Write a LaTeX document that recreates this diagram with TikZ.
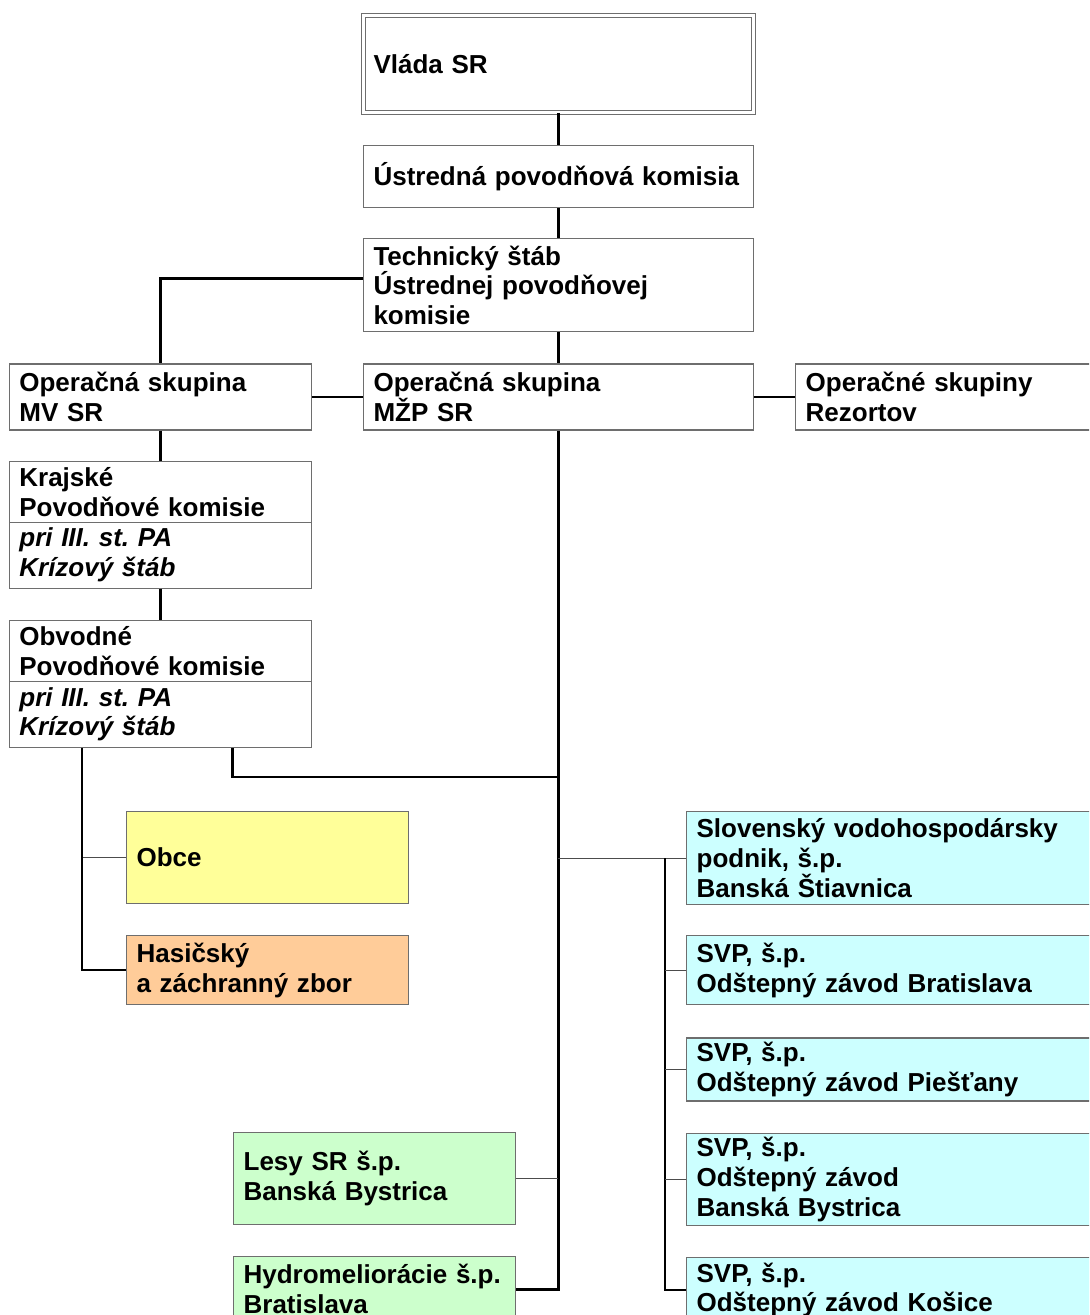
\documentclass[tikz,border=0pt]{standalone}
\usepackage{fontspec}
\setmainfont{Liberation Sans}
\usetikzlibrary{positioning, shapes.multipart}
\definecolor{povYellow}{RGB}{255, 255, 153}
\definecolor{povOrange}{RGB}{255, 204, 153}
\definecolor{povCyan}{RGB}{204, 255, 255}
\definecolor{povGreen}{RGB}{204, 255, 204}
\definecolor{povBorder}{RGB}{110, 110, 110}

\begin{document}
\begin{tikzpicture}[
    x=0.02cm, y=-0.02cm,
    box/.style={
        rectangle,
        draw=povBorder,
        fill=#1,
        line width=0.7pt,
        anchor=north west,
        align=left,
        inner xsep=0.2cm,
        inner ysep=0pt,
        font=\fontsize{14.8}{17}\selectfont\bfseries
    },
    box/.default=white,
    colC/.style={text width=7.4cm},
    colL/.style={text width=5.64cm},
    colS/.style={text width=5.24cm},
    colR/.style={text width=7.88cm},
    splitbox/.style={
        box, colL,
        rectangle split,
        rectangle split parts=2,
        inner ysep=3pt
    },
    trunk/.style={line width=1.5pt, black},
    rail/.style={line width=1.1pt, black},
    link/.style={line width=0.6pt, black!70}
]
    \useasboundingbox (0,0) rectangle (1089,1315);
    \clip (0,0) rectangle (1089,1315);

    % Level 1: Government and central commission
    \node[box, colC, double, double distance=1.2pt, line width=0.6pt, minimum height=1.94cm] (vlada) at (363,15) {Vláda SR};
    \node[box, colC, minimum height=1.24cm, below=0.64cm of vlada] (upk) {Ústredná povodňová komisia};
    \node[box, colC, minimum height=1.86cm, below=0.6cm of upk] (tech) {Technický štáb\\Ústrednej povodňovej\\komisie};

    % Level 2: Operation groups
    \node[box, colC, minimum height=1.32cm, below=0.62cm of tech] (mzp) {Operačná skupina\\MŽP SR};
    \node[box, colL, minimum height=1.32cm, left=1.02cm of mzp] (mvsr) {Operačná skupina\\MV SR};
    \node[box, text width=5.72cm, minimum height=1.32cm, right=0.82cm of mzp] (rezort) {Operačné skupiny\\Rezortov};

    % Level 3: Regional and district commissions
    \node[splitbox, below=0.6cm of mvsr] (krajske) {Krajské\\Povodňové komisie
        \nodepart{two}\itshape pri III. st.\ PA\\\itshape Krízový štáb};
    \node[splitbox, below=0.62cm of krajske] (obvodne) {Obvodné\\Povodňové komisie
        \nodepart{two}\itshape pri III. st.\ PA\\\itshape Krízový štáb};

    % Level 4: Municipalities and rescue
    \node[box=povYellow, colS, minimum height=1.84cm] (obce) at (126,811) {Obce};
    \node[box=povOrange, colS, minimum height=1.38cm, below=0.62cm of obce] (hasic) {Hasičský\\a záchranný zbor};

    % Level 4: Water management enterprises
    \node[box=povCyan, colR, minimum height=1.86cm] (svp1) at (686,811) {Slovenský vodohospodársky\\podnik, š.p.\\Banská Štiavnica};
    \node[box=povCyan, colR, minimum height=1.38cm, below=0.6cm of svp1] (svp2) {SVP, š.p.\\Odštepný závod Bratislava};
    \node[box=povCyan, colR, minimum height=1.26cm, below=0.64cm of svp2] (svp3) {SVP, š.p.\\Odštepný závod Piešťany};
    \node[box=povCyan, colR, minimum height=1.84cm, below=0.62cm of svp3] (svp4) {SVP, š.p.\\Odštepný závod\\Banská Bystrica};
    \node[box=povCyan, colR, minimum height=1.30cm, below=0.62cm of svp4] (svp5) {SVP, š.p.\\Odštepný závod Košice};

    % Level 4: Forests and land improvement
    \node[box=povGreen, colS, minimum height=1.84cm] (lesy) at (233,1132) {Lesy SR š.p.\\Banská Bystrica};
    \node[box=povGreen, colS, minimum height=1.30cm, below=0.62cm of lesy] (hydro) {Hydromeliorácie š.p.\\Bratislava};

    % Connections
    \coordinate (join) at (558,777);
    \draw[trunk] (vlada) -- (upk);
    \draw[trunk] (upk) -- (tech);
    \draw[trunk] (tech) -- (mzp);
    \draw[trunk] ([yshift=0.14cm]tech.west) -| (mvsr.north);
    \draw[trunk] (mvsr) -- (mzp);
    \draw[trunk] (mzp) -- (rezort);
    \draw[trunk] (mvsr) -- (krajske);
    \draw[trunk] (krajske) -- (obvodne);
    \draw[trunk] (mzp.south) |- (hydro.east);
    \draw[trunk] ([xshift=1.44cm]obvodne.south) |- (join);
    \draw[rail] ([xshift=-1.56cm]obvodne.south) |- (hasic.west);
    \draw[link] (obce.west) -- ++(-43,0);
    \draw[link] (mzp.south |- svp1.west) -- (svp1.west);
    \draw[rail] ([xshift=-0.42cm]svp1.west) |- (svp5.west);
    \foreach \svp in {svp2, svp3, svp4} {
        \draw[link] (\svp.west) -- ++(-21,0);
    }
    \draw[link] (lesy.east) -- (lesy.east -| mzp.south);

\end{tikzpicture}
\end{document}
